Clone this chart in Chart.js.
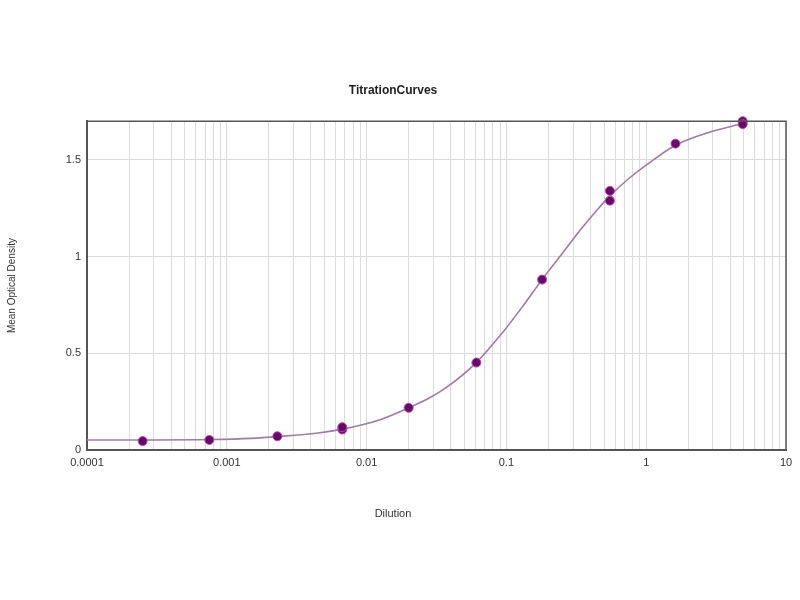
<!DOCTYPE html>
<html>
<head>
<meta charset="utf-8">
<title>TitrationCurves</title>
<script src="https://cdn.jsdelivr.net/npm/chart.js@4/dist/chart.umd.min.js"></script>
<style>
  html, body { margin: 0; padding: 0; background: #fff; }
  #wrap { width: 800px; height: 600px; }
</style>
</head>
<body>
<div id="wrap"><canvas id="titrationChart" width="800" height="600"></canvas></div>
<script>
const dilutions = [0.00025, 0.00075, 0.0023, 0.0067, 0.0067, 0.020, 0.061, 0.18, 0.55, 0.55, 1.62, 4.9, 4.9];
const odValues  = [0.046, 0.052, 0.071, 0.106, 0.118, 0.218, 0.452, 0.881, 1.340, 1.289, 1.584, 1.700, 1.685];

// Fitted curve
const curveX = [0.0001, 0.0003, 0.00076, 0.0015, 0.0023, 0.0045, 0.0067, 0.0125, 0.020, 0.027, 0.037, 0.061, 0.095, 0.13, 0.18, 0.25, 0.34, 0.45, 0.55, 0.73, 1.1, 1.62, 2.86, 4.9];
const curveY = [0.052, 0.052, 0.054, 0.060, 0.069, 0.088, 0.108, 0.157, 0.218, 0.262, 0.322, 0.452, 0.612, 0.740, 0.881, 1.015, 1.140, 1.245, 1.314, 1.396, 1.495, 1.576, 1.644, 1.688];

// Axis ticks
const xMajorTicks = [0.0001, 0.001, 0.01, 0.1, 1, 10];
const xMajorLabels = ['0.0001', '0.001', '0.01', '0.1', '1', '10'];
const yTicks = [0, 0.5, 1, 1.5];
const yTickLabels = ['0', '0.5', '1', '1.5'];

// minor grid lines 1..9 in every decade
const xGridTicks = [];
xMajorTicks.forEach((m, i) => {
    if (i === xMajorTicks.length - 1) { xGridTicks.push(m); return; }
    for (let k = 1; k <= 9; k++) xGridTicks.push(+(m * k).toPrecision(3));
});

const points = dilutions.map((d, i) => ({ x: d, y: odValues[i] }));
const curve = curveX.map((d, i) => ({ x: d, y: curveY[i] }));

// frame around the plot area (top and right sides)
const frame = {
    id: 'frame',
    afterDatasetsDraw(chart) {
        const { ctx, chartArea: a } = chart;
        ctx.save();
        ctx.strokeStyle = '#555';
        ctx.lineWidth = 1.5;
        ctx.beginPath();
        ctx.moveTo(a.left, a.top);
        ctx.lineTo(a.right, a.top);
        ctx.lineTo(a.right, a.bottom);
        ctx.stroke();
        ctx.restore();
    }
};

new Chart(document.getElementById('titrationChart'), {
    type: 'scatter',
    data: {
        datasets: [
            {
                label: 'Fit',
                data: curve,
                showLine: true,
                borderColor: '#a27aa2',
                borderWidth: 1.6,
                pointRadius: 0,
                cubicInterpolationMode: 'monotone',
                order: 2
            },
            {
                label: 'Data',
                data: points,
                backgroundColor: '#650a65',
                borderColor: '#b44ab4',
                borderWidth: 1,
                pointRadius: 4.5,
                clip: false,
                order: 1
            }
        ]
    },
    options: {
        responsive: false,
        animation: false,
        layout: { padding: { left: 0, right: 14, top: 0, bottom: 0 } },
        plugins: {
            legend: { display: false },
            tooltip: { enabled: false },
            title: {
                display: true,
                text: 'TitrationCurves',
                color: '#222',
                font: { family: 'Liberation Sans, Arial, sans-serif', size: 12, weight: 'bold' },
                padding: { top: 83, bottom: 23.8 }
            },
            subtitle: {
                display: true,
                position: 'bottom',
                text: 'Dilution',
                color: '#333',
                font: { family: 'Liberation Sans, Arial, sans-serif', size: 11 },
                padding: { top: 27.4, bottom: 79.4 }
            }
        },
        scales: {
            x: {
                type: 'logarithmic',
                min: 0.0001,
                max: 10,
                afterBuildTicks: scale => { scale.ticks = xGridTicks.map(v => ({ value: v })); },
                afterFit: scale => { scale.height = 30; },
                ticks: {
                    autoSkip: false,
                    maxRotation: 0,
                    padding: 6,
                    color: '#333',
                    font: { family: 'Liberation Sans, Arial, sans-serif', size: 11 },
                    callback: value => {
                        const i = xMajorTicks.findIndex(m => Math.abs(m - value) / m < 1e-6);
                        return i >= 0 ? xMajorLabels[i] : '';
                    }
                },
                grid: { color: '#dcdcdc', lineWidth: 1, drawTicks: false },
                border: { color: '#555', width: 2 }
            },
            y: {
                min: 0,
                max: 1.7,
                afterBuildTicks: scale => { scale.ticks = yTicks.map(v => ({ value: v })); },
                afterFit: scale => { scale.width = 87; },
                ticks: {
                    padding: 6,
                    color: '#333',
                    font: { family: 'Liberation Sans, Arial, sans-serif', size: 11 },
                    callback: value => {
                        const i = yTicks.indexOf(value);
                        return i >= 0 ? yTickLabels[i] : '';
                    }
                },
                grid: { color: '#dcdcdc', lineWidth: 1, drawTicks: false },
                border: { color: '#555', width: 2 },
                title: {
                    display: true,
                    text: 'Mean Optical Density',
                    color: '#333',
                    font: { family: 'Liberation Sans, Arial, sans-serif', size: 10 },
                    padding: { top: 6, bottom: 6 }
                }
            }
        }
    },
    plugins: [frame]
});
</script>
</body>
</html>
